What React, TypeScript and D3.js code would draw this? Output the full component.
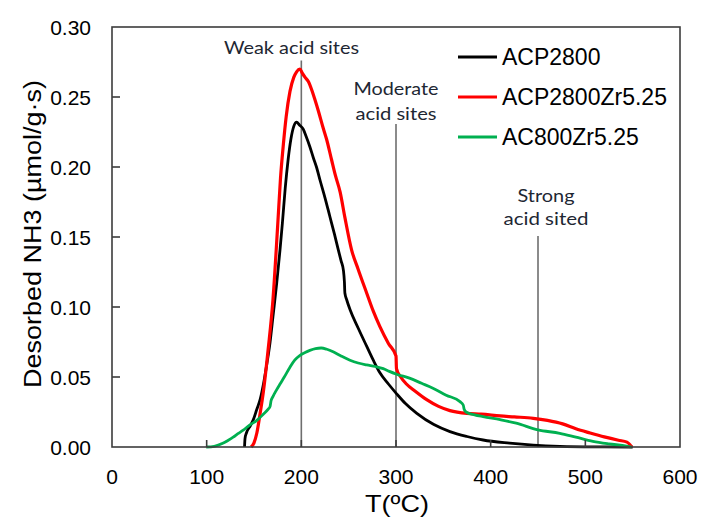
import React from "react";
import * as d3 from "d3";

// Data: [temperature °C, desorbed NH3]
const acp2800: [number, number][] = [
  [140, 0], [140.5, 0.006], [142, 0.01], [146, 0.015], [149, 0.019], [153, 0.027],
  [156.5, 0.034], [160, 0.045], [163, 0.057], [167, 0.075], [170, 0.093], [174, 0.117],
  [177.5, 0.141], [180, 0.16], [183, 0.185], [186, 0.205], [189, 0.22], [192, 0.229],
  [195, 0.232], [198, 0.23], [202, 0.227], [205, 0.222], [209, 0.2145], [212.5, 0.207],
  [216, 0.2], [220, 0.19], [225, 0.178], [230, 0.165], [235, 0.152], [239, 0.141],
  [242, 0.133], [244.5, 0.126], [245.5, 0.118], [246, 0.11], [248, 0.105], [251.5, 0.098],
  [260, 0.085], [269, 0.072], [276, 0.062], [283, 0.053], [292, 0.045], [300.7, 0.038],
  [310, 0.031], [322, 0.024], [340, 0.016], [357, 0.011], [375, 0.0075], [392, 0.005],
  [420, 0.0028], [445, 0.0014], [473, 0.0005], [510, 0.0001], [550, 0],
];

const acp2800Zr525: [number, number][] = [
  [147, 0], [150, 0.003], [153, 0.01], [156, 0.022], [160, 0.04], [165, 0.07],
  [170, 0.105], [175, 0.158], [178, 0.192], [181, 0.216], [184, 0.236], [188, 0.254],
  [192, 0.264], [195, 0.268], [198.5, 0.27], [201, 0.267], [204, 0.264], [207.4, 0.261],
  [211, 0.255], [214.4, 0.248], [218, 0.24], [223, 0.228], [226.6, 0.22], [232, 0.205],
  [236, 0.194], [241, 0.182], [246, 0.164], [253, 0.141], [260, 0.127], [269, 0.11],
  [276, 0.097], [283, 0.086], [292, 0.074], [300, 0.065], [300.5, 0.056], [305, 0.05],
  [311, 0.045], [320, 0.04], [332, 0.034], [345, 0.029], [357, 0.026], [375, 0.024],
  [390, 0.0235], [410, 0.0222], [425, 0.0215], [445, 0.0205], [460, 0.019], [476, 0.0165],
  [490, 0.013], [505, 0.01], [520, 0.0072], [535, 0.0048], [544, 0.0035], [549, 0],
];

const ac800Zr525: [number, number][] = [
  [99.5, 0], [108, 0.0005], [117, 0.0026], [122, 0.0045], [128, 0.007], [133, 0.0095],
  [138.6, 0.012], [145, 0.0155], [153, 0.019], [160, 0.0235], [165, 0.027], [167, 0.029],
  [168, 0.033], [170, 0.036], [174, 0.041], [177.5, 0.045], [182, 0.05], [188, 0.057],
  [193, 0.062], [198.6, 0.0655], [204, 0.0675], [209, 0.069], [215, 0.0703], [221, 0.0707],
  [227, 0.0698], [233.6, 0.068], [242, 0.065], [251.4, 0.062], [260, 0.06], [269, 0.0586],
  [278, 0.0575], [286.5, 0.056], [293, 0.054], [300.6, 0.052], [315, 0.049], [327, 0.0455],
  [339, 0.042], [353, 0.037], [367.6, 0.0324], [371, 0.03], [372, 0.027], [374, 0.025],
  [383, 0.023], [392, 0.0217], [410, 0.0195], [427, 0.017], [450, 0.0122], [473, 0.0098],
  [490, 0.007], [508, 0.004], [525, 0.0022], [543.6, 0.0007], [549, 0],
];

const seriesNames = ["ACP2800", "ACP2800Zr5.25", "AC800Zr5.25"];
const seriesColors = ["#000000", "#ff0000", "#00b050"];
const seriesData = [acp2800, acp2800Zr525, ac800Zr525];

const xTicks = [0, 100, 200, 300, 400, 500, 600];
const yTicks = [0, 0.05, 0.1, 0.15, 0.2, 0.25, 0.3];

// Annotation lines: temperature, top value, label lines
const annotTemps = [200, 300, 450];
const annotTops = [0.276, 0.2307, 0.1507];
const annotLabels = [["Weak acid sites"], ["Moderate", "acid sites"], ["Strong", "acid sited"]];

const W = 702;
const H = 522;
const left = 112, right = 680, top = 27, bottom = 447;

export default function App() {
  const x = d3.scaleLinear().domain([0, 600]).range([left, right]);
  const y = d3.scaleLinear().domain([0, 0.3]).range([bottom, top]);
  const line = d3
    .line<[number, number]>()
    .x((d) => x(d[0]))
    .y((d) => y(d[1]))
    .curve(d3.curveMonotoneX);

  const axisFont = "'Liberation Sans', Arial, sans-serif";
  const annFont = "Lato, 'Open Sans', sans-serif";
  const annLabelLayout = [
    { cx: 291.5, ys: [54], lens: [135] },
    { cx: 396, ys: [95, 120], lens: [85, 81] },
    { cx: 546, ys: [201.5, 225], lens: [57, 85] },
  ];

  return (
    <svg
      width={W}
      height={H}
      style={{ position: "absolute", left: 0, top: 0, background: "#fff" }}
    >
      {/* annotation vertical lines */}
      {annotTemps.map((t, i) => (
        <line
          key={"al" + i}
          x1={x(t)}
          x2={x(t)}
          y1={y(annotTops[i])}
          y2={bottom}
          stroke="#6e6e6e"
          strokeWidth={1.6}
        />
      ))}
      {annotLabels.map((lines, i) =>
        lines.map((s, j) => (
          <text
            key={"at" + i + j}
            x={annLabelLayout[i].cx}
            y={annLabelLayout[i].ys[j]}
            textAnchor="middle"
            fontFamily={annFont}
            fontSize={17}
            fill="#1e2733"
            textLength={annLabelLayout[i].lens[j]}
            lengthAdjust="spacingAndGlyphs"
          >
            {s}
          </text>
        ))
      )}

      {/* data lines */}
      {seriesData.map((d, i) => (
        <path
          key={"s" + i}
          d={line(d) || ""}
          fill="none"
          stroke={seriesColors[i]}
          strokeWidth={i === 1 ? 3.2 : 2.8}
          strokeLinejoin="round"
        />
      ))}

      {/* frame */}
      <rect
        x={left}
        y={top}
        width={right - left}
        height={bottom - top}
        fill="none"
        stroke="#3c3c3c"
        strokeWidth={1.6}
      />
      {/* y ticks (inside) */}
      {yTicks.slice(1, -1).map((v) => (
        <line key={"yt" + v} x1={left} x2={left + 8} y1={y(v)} y2={y(v)} stroke="#3c3c3c" strokeWidth={1.6} />
      ))}
      {/* x ticks (inside) */}
      {xTicks.slice(1, -1).map((v) => (
        <line key={"xt" + v} x1={x(v)} x2={x(v)} y1={bottom} y2={bottom - 7} stroke="#3c3c3c" strokeWidth={1.6} />
      ))}
      {/* y tick labels */}
      {yTicks.map((v) => (
        <text
          key={"yl" + v}
          x={91}
          y={y(v)}
          dy="0.36em"
          textAnchor="end"
          fontFamily={axisFont}
          fontSize={21}
          fill="#000"
        >
          {d3.format(".2f")(v)}
        </text>
      ))}
      {/* x tick labels */}
      {xTicks.map((v) => (
        <text
          key={"xl" + v}
          x={x(v)}
          y={484}
          textAnchor="middle"
          fontFamily={axisFont}
          fontSize={21}
          fill="#000"
        >
          {v}
        </text>
      ))}
      {/* axis titles */}
      <text
        x={397}
        y={512}
        textAnchor="middle"
        fontFamily={axisFont}
        fontSize={24}
        fill="#000"
        textLength={64}
        lengthAdjust="spacingAndGlyphs"
      >
        T(ºC)
      </text>
      <text
        transform={`translate(41,${234}) rotate(-90)`}
        textAnchor="middle"
        fontFamily={axisFont}
        fontSize={23}
        fill="#000"
        textLength={308}
        lengthAdjust="spacingAndGlyphs"
      >
        Desorbed NH3 (µmol/g·s)
      </text>

      {/* legend */}
      {seriesNames.map((n, i) => (
        <g key={"lg" + i}>
          <line
            x1={458}
            x2={497}
            y1={57 + i * 40}
            y2={57 + i * 40}
            stroke={seriesColors[i]}
            strokeWidth={3}
          />
          <text
            x={502}
            y={65 + i * 40}
            fontFamily={axisFont}
            fontSize={23}
            fill="#000"
          >
            {n}
          </text>
        </g>
      ))}
    </svg>
  );
}
